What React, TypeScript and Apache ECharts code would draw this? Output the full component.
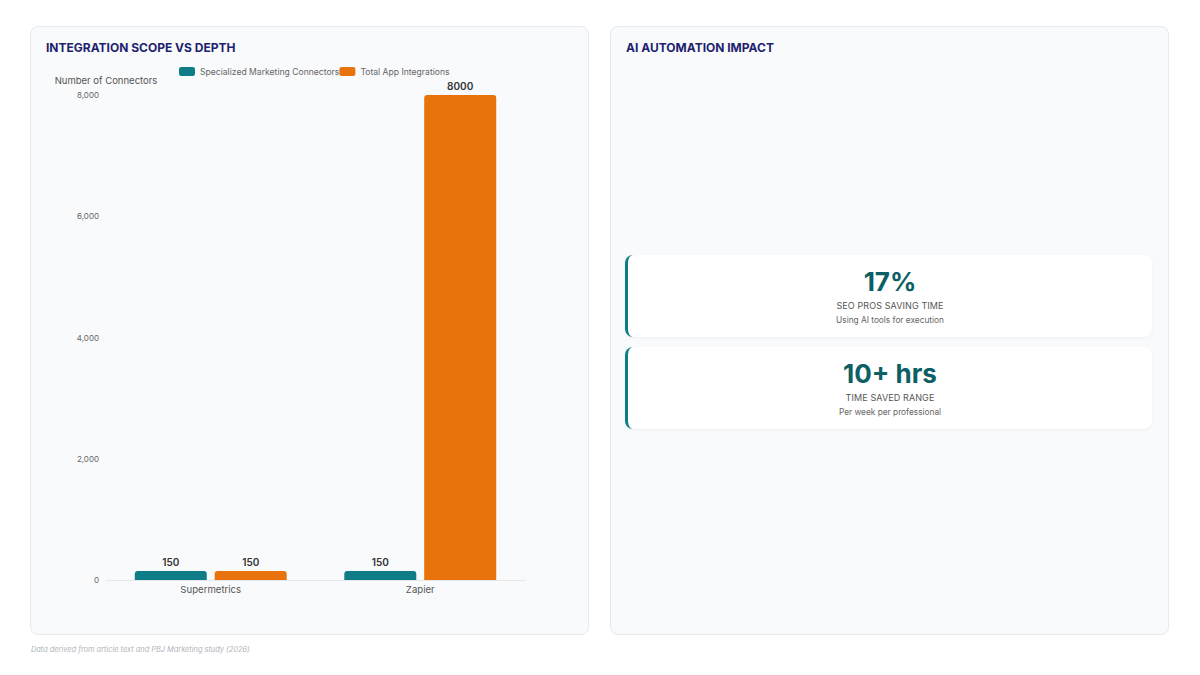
import React, { useEffect, useRef } from "react";
import * as echarts from "echarts";

const categories = ["Supermetrics", "Zapier"];
const seriesNames = ["Specialized Marketing Connectors", "Total App Integrations"];
const specializedValues = [150, 150];
const totalValues = [150, 8000];
const yTicks = { min: 0, max: 8000, interval: 2000 };

const kpiValues = ["17%", "10+ hrs"];
const kpiLabels = ["SEO PROS SAVING TIME", "TIME SAVED RANGE"];
const kpiSubs = ["Using AI tools for execution", "Per week per professional"];

const TEAL = "#0e7d87";
const ORANGE = "#e8720c";
const FONT = "Inter, 'Noto Sans', sans-serif";

function BarChart() {
  const ref = useRef<HTMLDivElement>(null);
  useEffect(() => {
    if (!ref.current) return;
    const chart = echarts.init(ref.current, undefined, { renderer: "svg" });
    const barLabel = { show: true, position: "top", distance: 4, color: "#333", fontSize: 10, fontWeight: 600, fontFamily: FONT };
    chart.setOption({
      animation: false,
      textStyle: { fontFamily: FONT },
      legend: {
        left: 128,
        top: 2,
        itemWidth: 16,
        itemHeight: 9,
        itemGap: 0,
        icon: "roundRect",
        textStyle: { fontSize: 8.6, color: "#666", fontFamily: FONT },
        data: seriesNames,
      },
      grid: { left: 60, right: 49, top: 35, bottom: 30 },
      xAxis: {
        type: "category",
        data: categories,
        axisLine: { lineStyle: { color: "#e5e7eb" } },
        axisTick: { show: false },
        axisLabel: { color: "#555", fontSize: 9.6, margin: 4, fontFamily: FONT },
      },
      yAxis: {
        type: "value",
        min: yTicks.min,
        max: yTicks.max,
        interval: yTicks.interval,
        name: "Number of Connectors",
        nameLocation: "end",
        nameGap: 10,
        nameTextStyle: { color: "#555", fontSize: 9.5, fontFamily: FONT },
        splitLine: { show: false },
        axisLine: { show: false },
        axisTick: { show: false },
        axisLabel: { color: "#666", fontSize: 8, margin: 7, fontFamily: FONT },
      },
      series: [
        {
          name: seriesNames[0],
          type: "bar",
          data: specializedValues,
          barWidth: 72,
          barGap: "11%",
          itemStyle: { color: TEAL, borderRadius: [3, 3, 0, 0] },
          label: barLabel,
        },
        {
          name: seriesNames[1],
          type: "bar",
          data: totalValues,
          barWidth: 72,
          barGap: "11%",
          itemStyle: { color: ORANGE, borderRadius: [3, 3, 0, 0] },
          label: barLabel,
        },
      ],
    });
    return () => chart.dispose();
  }, []);
  return <div ref={ref} style={{ position: "absolute", left: 15, top: 33, width: 528, height: 550 }} />;
}

const panelStyle: React.CSSProperties = {
  position: "absolute",
  top: 26,
  width: 557,
  height: 607,
  background: "#f8fafc",
  border: "1px solid #e6eaef",
  borderRadius: 8,
  boxSizing: "content-box",
};

const titleStyle: React.CSSProperties = {
  position: "absolute",
  left: 15,
  top: 13,
  fontSize: 12,
  fontWeight: 700,
  letterSpacing: 0,
  color: "#1f1f6e",
  fontFamily: FONT,
  lineHeight: "16px",
};

function KpiCard({ i, top }: { i: number; top: number }) {
  return (
    <div
      style={{
        position: "absolute",
        left: 14,
        top,
        width: 527,
        height: 82,
        background: "#ffffff",
        borderLeft: `3px solid ${TEAL}`,
        borderRadius: 8,
        boxSizing: "border-box",
        boxShadow: "0 1px 3px rgba(0,0,0,0.05)",
        textAlign: "center",
        fontFamily: FONT,
      }}
    >
      <div style={{ position: "absolute", left: 0, right: 0, top: 10, fontSize: 26, fontWeight: 700, color: "#0c5f64", lineHeight: "34px" }}>
        {kpiValues[i]}
      </div>
      <div style={{ position: "absolute", left: 0, right: 0, top: 45, fontSize: 9, color: "#555", letterSpacing: 0.1, lineHeight: "12px" }}>
        {kpiLabels[i]}
      </div>
      <div style={{ position: "absolute", left: 0, right: 0, top: 59, fontSize: 8.3, color: "#666", lineHeight: "12px" }}>
        {kpiSubs[i]}
      </div>
    </div>
  );
}

export default function App() {
  return (
    <div style={{ position: "absolute", left: 0, top: 0, width: 1200, height: 675, background: "#ffffff", fontFamily: FONT, overflow: "hidden" }}>
      <div style={{ ...panelStyle, left: 30 }}>
        <div style={titleStyle}>INTEGRATION SCOPE VS DEPTH</div>
        <BarChart />
      </div>
      <div style={{ ...panelStyle, left: 610 }}>
        <div style={titleStyle}>AI AUTOMATION IMPACT</div>
        <KpiCard i={0} top={228} />
        <KpiCard i={1} top={320} />
      </div>
      <div style={{ position: "absolute", left: 31, top: 645, fontSize: 7.4, fontStyle: "italic", color: "#b0b4ba", fontFamily: FONT, lineHeight: "10px" }}>
        Data derived from article text and PBJ Marketing study (2026)
      </div>
    </div>
  );
}
